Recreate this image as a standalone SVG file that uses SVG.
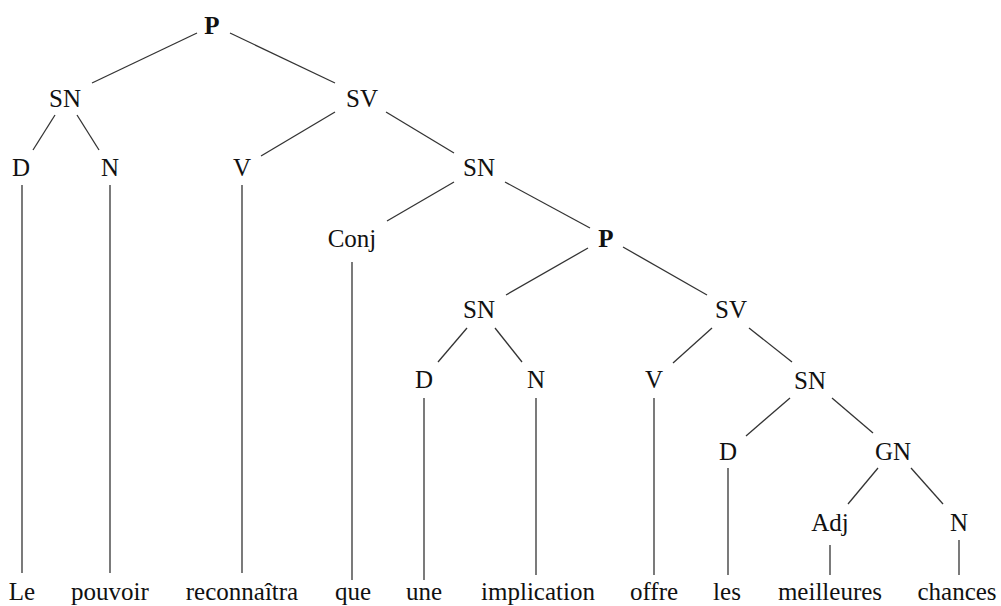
<svg xmlns="http://www.w3.org/2000/svg" width="1001" height="606" viewBox="0 0 1001 606">
<style>
text{font-family:"Liberation Serif","Times New Roman",serif;font-size:25px;fill:#111;text-anchor:middle}
.b{font-weight:bold}
#edges line{stroke:#333;stroke-width:1.3}
</style>
<rect width="1001" height="606" fill="#fff"/>
<g id="edges">
<line x1="197" y1="33" x2="92" y2="83"/>
<line x1="230" y1="33" x2="335" y2="83"/>
<line x1="55" y1="115" x2="33" y2="150"/>
<line x1="77" y1="115" x2="99" y2="150"/>
<line x1="335" y1="112" x2="261" y2="156"/>
<line x1="386" y1="112" x2="454" y2="153"/>
<line x1="454" y1="182" x2="387" y2="221"/>
<line x1="505" y1="182" x2="590" y2="228"/>
<line x1="588" y1="248" x2="506" y2="295"/>
<line x1="623" y1="247" x2="707" y2="295"/>
<line x1="467" y1="328" x2="438" y2="362"/>
<line x1="495" y1="328" x2="522" y2="362"/>
<line x1="712" y1="328" x2="673" y2="363"/>
<line x1="749" y1="328" x2="792" y2="362"/>
<line x1="790" y1="398" x2="746" y2="436"/>
<line x1="832" y1="398" x2="873" y2="433"/>
<line x1="878" y1="468" x2="848" y2="504"/>
<line x1="911" y1="468" x2="943" y2="504"/>
<line x1="22" y1="185" x2="22" y2="573"/>
<line x1="110" y1="185" x2="110" y2="573"/>
<line x1="242" y1="185" x2="242" y2="573"/>
<line x1="352" y1="262" x2="352" y2="580"/>
<line x1="424" y1="398" x2="424" y2="580"/>
<line x1="536" y1="398" x2="536" y2="575"/>
<line x1="654" y1="398" x2="654" y2="575"/>
<line x1="728" y1="468" x2="728" y2="575"/>
<line x1="830" y1="545" x2="830" y2="575"/>
<line x1="959" y1="540" x2="959" y2="575"/>
</g>
<g id="P1"><text class="b" x="212" y="34">P</text></g>
<g id="SN1"><text x="65" y="107">SN</text></g>
<g id="SV1"><text x="362" y="107">SV</text></g>
<g id="D1"><text x="21" y="176">D</text></g>
<g id="N1"><text x="110" y="176">N</text></g>
<g id="V1"><text x="242" y="176">V</text></g>
<g id="SN2"><text x="479" y="176">SN</text></g>
<g id="Conj"><text x="352" y="247">Conj</text></g>
<g id="P2"><text class="b" x="606" y="247">P</text></g>
<g id="SN3"><text x="479" y="318">SN</text></g>
<g id="SV2"><text x="731" y="318">SV</text></g>
<g id="D2"><text x="424" y="388">D</text></g>
<g id="N2"><text x="536" y="388">N</text></g>
<g id="V2"><text x="654" y="388">V</text></g>
<g id="SN4"><text x="810" y="389">SN</text></g>
<g id="D3"><text x="728" y="460">D</text></g>
<g id="GN"><text x="893" y="460">GN</text></g>
<g id="Adj"><text x="830" y="531">Adj</text></g>
<g id="N3"><text x="959" y="531">N</text></g>
<g id="w1"><text x="22" y="600">Le</text></g>
<g id="w2"><text x="110" y="600">pouvoir</text></g>
<g id="w3"><text x="242" y="600">reconnaîtra</text></g>
<g id="w4"><text x="353" y="600">que</text></g>
<g id="w5"><text x="424" y="600">une</text></g>
<g id="w6"><text x="538" y="600">implication</text></g>
<g id="w7"><text x="654" y="600">offre</text></g>
<g id="w8"><text x="727" y="600">les</text></g>
<g id="w9"><text x="830" y="600">meilleures</text></g>
<g id="w10"><text x="957" y="600">chances</text></g>
</svg>
